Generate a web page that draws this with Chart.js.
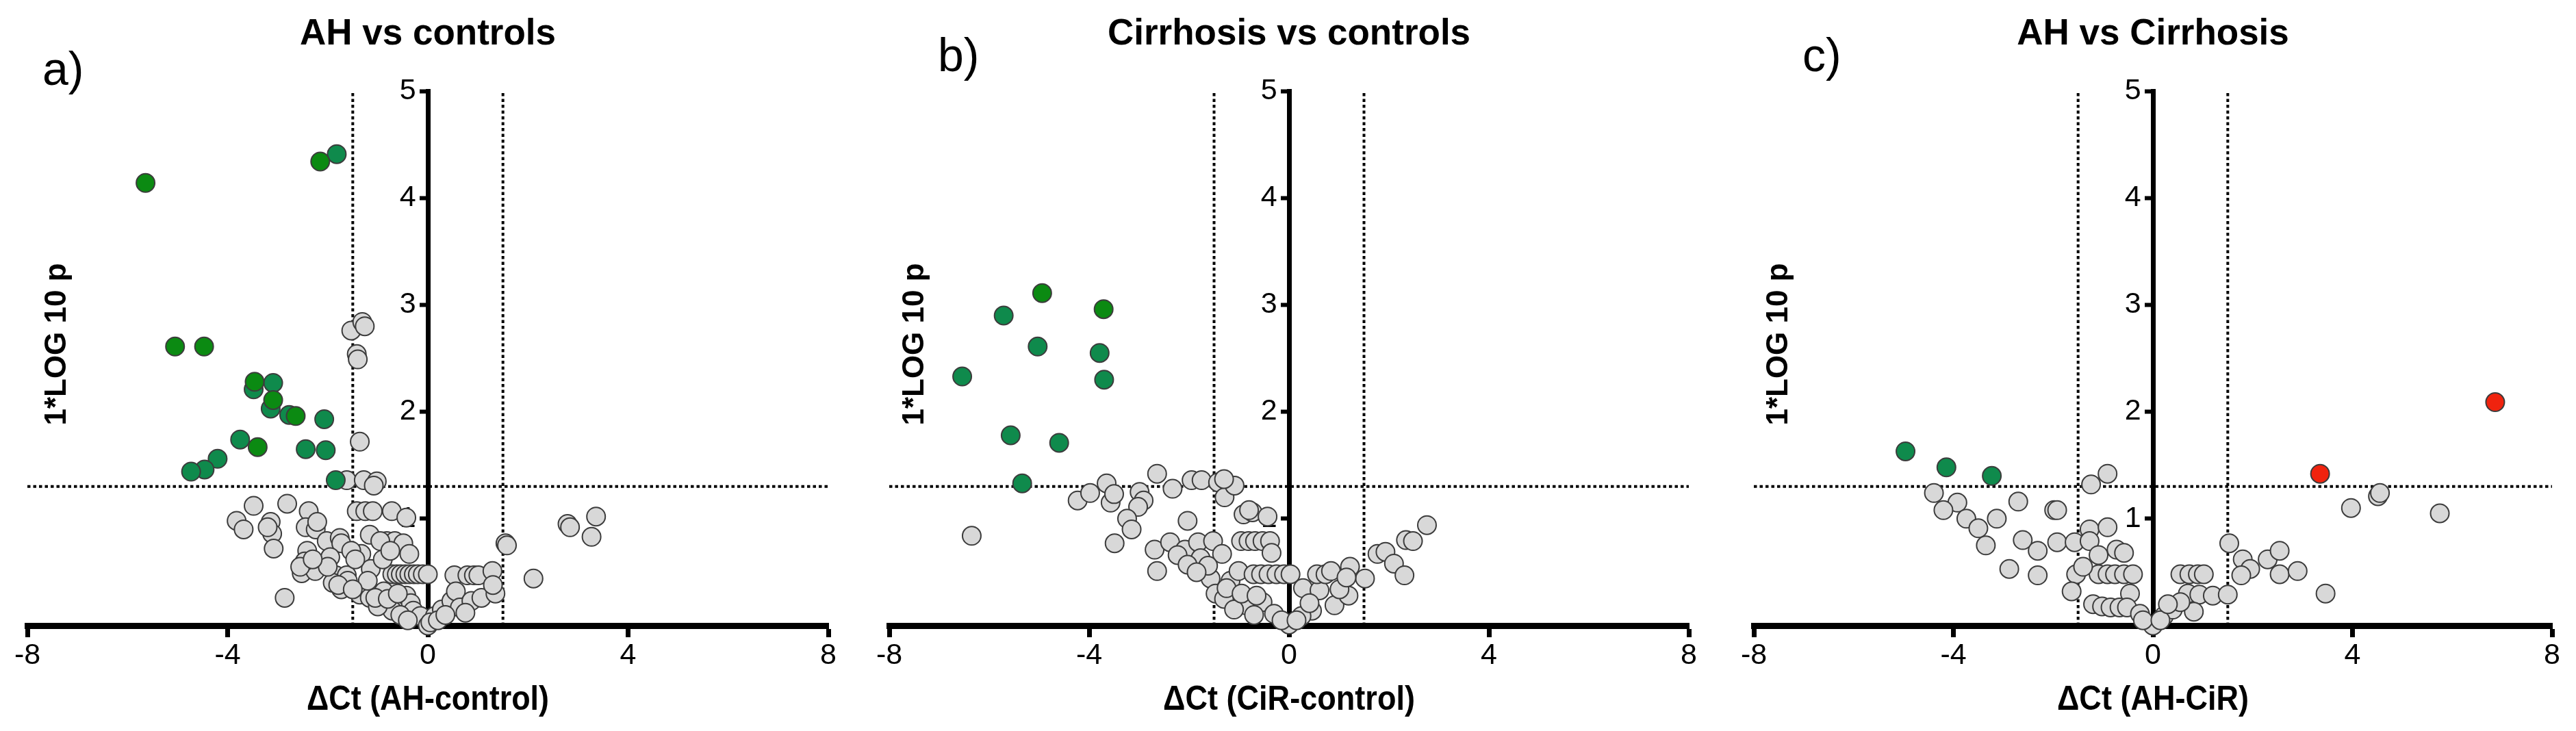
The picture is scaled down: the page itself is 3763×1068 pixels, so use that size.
<!DOCTYPE html>
<html>
<head>
<meta charset="utf-8">
<script src="https://cdn.jsdelivr.net/npm/chart.js@4.4.1/dist/chart.umd.min.js"></script>
<style>
html,body{margin:0;padding:0;background:#fff;}
body{width:3763px;height:1068px;position:relative;overflow:hidden;}
.panel{position:absolute;top:0;height:1068px;}
</style>
</head>
<body>
<div class="panel" style="left:0;width:1250px"><canvas id="cA"></canvas></div>
<div class="panel" style="left:1250px;width:1250px"><canvas id="cB"></canvas></div>
<div class="panel" style="left:2500px;width:1263px"><canvas id="cC"></canvas></div>
<script>
// ---------- thresholds and tick labels ----------
const foldCutoff = 1.5;          // |ΔCt| cut-off (dotted verticals)
const pCutoff = 1.301;           // -log10(0.05) (dotted horizontal)
const xTicks = [-8, -4, 0, 4, 8];
const yTicks = [0, 1, 2, 3, 4, 5];

// ---------- panel a: AH vs controls ----------
const ahCtrlGreenDark = [[-5.64,4.14],[-2.15,4.34],[-5.05,2.61],[-4.47,2.61],[-3.46,2.28],[-3.09,2.11],[-2.64,1.96],[-3.40,1.67]];
const ahCtrlGreen = [[-1.82,4.41],[-3.48,2.21],[-3.09,2.27],[-3.14,2.03],[-2.77,1.97],[-2.07,1.93],[-3.75,1.74],[-2.44,1.65],[-2.04,1.64],[-4.20,1.56],[-4.46,1.46],[-4.73,1.44],[-1.84,1.36]];
const ahCtrlGray = [
[-1.53,2.76],[-1.31,2.84],[-1.26,2.80],[-1.42,2.54],[-1.40,2.49],[-1.36,1.72],
[-1.62,1.36],[-1.28,1.36],[-1.02,1.35],[-1.08,1.31],
[-1.42,1.07],[-1.25,1.07],[-1.10,1.07],[-0.72,1.07],[-0.43,1.01],
[-3.48,1.12],[-2.81,1.14],[-3.82,0.98],[-3.68,0.90],[-3.14,0.97],[-3.11,0.86],[-3.08,0.72],[-3.20,0.92],
[-2.38,1.07],[-2.44,0.92],[-2.24,0.90],[-2.21,0.97],[-2.02,0.79],[-1.76,0.82],[-1.73,0.77],
[-2.41,0.70],[-1.95,0.64],[-2.52,0.49],[-2.25,0.51],[-1.84,0.47],[-1.62,0.47],[-2.86,0.26],[-2.46,0.60],
[-1.16,0.85],[-1.33,0.67],[-0.82,0.79],[-0.66,0.79],[-0.49,0.77],[-0.37,0.67],[-1.14,0.53],[-0.95,0.79],
[-0.71,0.48],[-0.62,0.48],[-0.54,0.48],[-0.45,0.48],[-0.37,0.48],[-0.28,0.48],[-0.20,0.48],[-0.10,0.48],[0.00,0.48],
[0.53,0.47],[0.79,0.47],[0.92,0.47],[1.01,0.47],[1.29,0.51],
[-1.73,0.34],[-1.36,0.29],[-1.16,0.26],[-0.88,0.32],[-0.66,0.21],[-0.43,0.28],[-0.34,0.21],[-0.71,0.14],[-0.29,0.14],[-0.15,0.09],[0.00,0.00],[0.14,0.09],[0.28,0.15],[0.47,0.23],[0.56,0.32],[0.64,0.17],[0.87,0.23],[1.07,0.26],[1.35,0.30],[1.30,0.38],
[1.55,0.77],[1.58,0.75],[2.11,0.44],[2.79,0.95],[2.84,0.92],[3.36,1.02],[3.27,0.83],
[-1.53,0.70],[-1.90,0.40],[-1.60,0.42],[-1.20,0.42],[-1.00,0.18],[-0.55,0.10],[-0.40,0.05],[0.05,0.03],[0.20,0.05],[0.35,0.10],[0.75,0.12],[-2.00,0.55],
[-1.79,0.38],[-1.50,0.34],[-1.05,0.26],[-0.80,0.25],[-0.60,0.30],[-2.55,0.55],[-2.30,0.62],[-1.45,0.62],[-0.90,0.62],[-0.75,0.70]
];

// ---------- panel b: Cirrhosis vs controls ----------
const cirCtrlGreenDark = [[-4.94,3.11],[-3.71,2.96]];
const cirCtrlGreen = [[-5.71,2.90],[-5.03,2.61],[-3.79,2.55],[-6.54,2.33],[-3.70,2.30],[-5.57,1.78],[-4.60,1.71],[-5.34,1.33]];
const cirCtrlGray = [
[-6.35,0.84],
[-4.23,1.17],[-3.98,1.24],[-3.65,1.33],[-3.57,1.15],[-3.50,1.23],[-2.99,1.25],[-2.91,1.17],[-3.02,1.11],[-3.24,1.00],[-3.15,0.90],[-3.49,0.77],
[-2.64,1.42],[-2.33,1.28],[-1.95,1.36],[-1.75,1.36],[-1.42,1.34],[-1.29,1.20],[-1.09,1.31],[-1.30,1.37],
[-0.91,1.04],[-0.73,1.06],[-0.43,1.02],[-0.80,1.08],
[-0.96,0.79],[-0.81,0.79],[-0.68,0.79],[-0.53,0.79],[-0.38,0.79],[-0.35,0.68],
[-2.03,0.98],[-2.69,0.71],[-2.38,0.78],[-2.08,0.71],[-1.82,0.78],[-1.52,0.79],[-1.34,0.67],[-2.23,0.66],[-1.77,0.63],[-2.64,0.51],[-2.03,0.57],[-1.57,0.44],[-1.17,0.42],[-1.47,0.30],[-1.01,0.51],
[-0.71,0.48],[-0.56,0.48],[-0.41,0.48],[-0.25,0.48],[-0.10,0.48],[0.03,0.48],
[-0.86,0.19],[-0.53,0.22],[-0.30,0.11],[0.00,0.01],[-1.30,0.25],[-1.10,0.15],[-0.70,0.10],[-0.15,0.05],
[0.28,0.35],[0.46,0.14],[0.61,0.33],[0.56,0.48],[0.73,0.48],[0.84,0.51],[0.91,0.19],[1.19,0.28],[1.22,0.55],[1.52,0.44],[1.77,0.67],[1.93,0.69],[2.10,0.58],[2.31,0.47],[2.34,0.80],[2.48,0.79],[2.76,0.94],[1.01,0.34],[0.25,0.09],[0.41,0.21],[0.15,0.05],[1.15,0.45],
[-1.62,0.56],[-1.25,0.35],[-0.95,0.30],[-1.85,0.50],[-0.65,0.28]
];

// ---------- panel c: AH vs Cirrhosis ----------
const ahCirGreen = [[-4.96,1.63],[-4.14,1.48],[-3.23,1.40]];
const ahCirRed = [[3.35,1.42],[6.86,2.09]];
const ahCirGray = [
[-4.39,1.24],[-3.92,1.15],[-4.20,1.08],[-3.74,1.00],[-3.50,0.91],[-3.35,0.75],[-3.13,1.00],[-2.70,1.16],[-1.98,1.08],[-1.92,1.08],[-1.24,1.32],[-0.91,1.42],
[-2.61,0.80],[-2.31,0.70],[-1.92,0.78],[-1.57,0.78],[-1.27,0.90],[-1.27,0.79],[-0.91,0.92],[-1.09,0.66],[-0.73,0.71],[-0.58,0.68],
[-2.88,0.53],[-2.31,0.47],[-1.54,0.48],[-1.63,0.32],
[-1.09,0.48],[-0.91,0.48],[-0.76,0.48],[-0.58,0.48],[-0.40,0.48],
[-0.46,0.30],[-1.20,0.20],[-1.02,0.18],[-0.85,0.17],[-0.67,0.17],[-0.52,0.17],[-0.26,0.11],[0.00,0.00],[0.22,0.09],[0.40,0.15],
[0.55,0.48],[0.73,0.48],[0.90,0.48],[1.02,0.48],[0.70,0.30],[0.93,0.29],[1.20,0.28],[1.50,0.29],[0.82,0.13],[0.55,0.22],
[1.53,0.77],[1.80,0.62],[1.95,0.53],[1.77,0.47],[2.30,0.62],[2.54,0.70],[2.54,0.48],[2.90,0.51],[3.46,0.30],[3.97,1.10],[4.51,1.21],[4.55,1.24],[5.75,1.05],
[-1.40,0.55],[-0.20,0.05],[0.15,0.05],[0.30,0.20]
];

// ---------- styling ----------
const GRAY = '#d8d8d8', GRAY_EDGE = '#3c3c3c';
const GREEN = '#0f8a4c', GREEN_DARK = '#0b8a12', RED = '#f0230e';
const FONT = '"Liberation Sans", Arial, Helvetica, sans-serif';

const toPts = arr => arr.map(p => ({x: p[0], y: p[1]}));

function cutoffLines() {
  const base = {type: 'scatter', showLine: true, borderColor: '#000', borderWidth: 4,
    borderDash: [4.5, 4], borderCapStyle: 'butt', pointRadius: 0, pointHoverRadius: 0, fill: false, clip: false, order: 20};
  return [
    Object.assign({}, base, {data: [{x: -foldCutoff, y: yTicks[0]}, {x: -foldCutoff, y: yTicks[yTicks.length-1]}]}),
    Object.assign({}, base, {data: [{x: foldCutoff, y: yTicks[0]}, {x: foldCutoff, y: yTicks[yTicks.length-1]}]}),
    Object.assign({}, base, {data: [{x: xTicks[0], y: pCutoff}, {x: xTicks[xTicks.length-1], y: pCutoff}]})
  ];
}
function pointSet(arr, fill, order) {
  return {type: 'scatter', data: toPts(arr), backgroundColor: fill, borderColor: GRAY_EDGE,
    borderWidth: 2, pointRadius: 13.5, pointHoverRadius: 13.5, clip: false, order: order};
}

const textPlugin = {
  id: 'panelText',
  afterDraw(chart, args, o) {
    const ctx = chart.ctx;
    ctx.save();
    ctx.fillStyle = '#000';
    // panel letter
    ctx.font = '68px ' + FONT;
    ctx.textAlign = 'left'; ctx.textBaseline = 'alphabetic';
    ctx.fillText(o.letter, o.letterX, o.letterY);
    // x axis title (condensed bold)
    const x0 = chart.scales.x.getPixelForValue(0);
    ctx.font = 'bold 50px ' + FONT;
    const w = ctx.measureText(o.xTitle).width;
    ctx.save();
    ctx.translate(x0, 1037);
    ctx.scale(o.xTitleWidth / w, 1);
    ctx.textAlign = 'center';
    ctx.fillText(o.xTitle, 0, 0);
    ctx.restore();
    // y axis title
    ctx.translate(o.yTitleX, 503);
    ctx.rotate(-Math.PI / 2);
    ctx.font = 'bold 44px ' + FONT;
    ctx.textAlign = 'center'; ctx.textBaseline = 'middle';
    ctx.fillText(o.yTitle, 0, 0);
    ctx.restore();
  }
};

function makeChart(id, cfg) {
  const tickFont = {family: FONT, size: 43};
  new Chart(document.getElementById(id), {
    type: 'scatter',
    data: {datasets: cutoffLines().concat(cfg.sets)},
    plugins: [textPlugin],
    options: {
      responsive: true, maintainAspectRatio: false, animation: false, devicePixelRatio: 1,
      events: [],
      layout: {padding: {left: cfg.padL, right: cfg.padR, top: 0, bottom: 154}},
      plugins: {
        legend: {display: false}, tooltip: {enabled: false},
        title: {display: true, text: cfg.title, color: '#000',
          font: {family: FONT, size: 53, weight: 'bold', lineHeight: 1.2},
          padding: {top: 19, bottom: 50.4}},
        panelText: cfg.text
      },
      scales: {
        x: {type: 'linear', position: {y: 0}, min: xTicks[0], max: xTicks[xTicks.length-1],
          afterBuildTicks: s => { s.ticks = xTicks.map(v => ({value: v})); },
          ticks: {color: '#000', font: tickFont, padding: 6, maxRotation: 0, autoSkip: false},
          grid: {display: true, drawOnChartArea: false, drawTicks: true, tickLength: 12, tickColor: '#000', tickWidth: 7},
          border: {display: true, color: '#000', width: 9}},
        y: {type: 'linear', position: {x: 0}, min: yTicks[0], max: yTicks[yTicks.length-1],
          afterBuildTicks: s => { s.ticks = yTicks.map(v => ({value: v})); },
          // label sits left of the centred axis: trailing thin spaces give the gap
          ticks: {color: '#000', font: tickFont, padding: 8, callback: v => (v === 0 ? '' : String(v) + '\u2009\u2009')},
          grid: {display: true, drawOnChartArea: false, drawTicks: true, tickLength: 9, tickColor: '#000', tickWidth: 6},
          border: {display: true, color: '#000', width: 7}}
      }
    }
  });
}

makeChart('cA', {
  title: 'AH vs controls', padL: 40, padR: 40,
  sets: [pointSet(ahCtrlGray, GRAY, 5), pointSet(ahCtrlGreen, GREEN, 4), pointSet(ahCtrlGreenDark, GREEN_DARK, 3)],
  text: {letter: 'a)', letterX: 62, letterY: 124, xTitle: 'ΔCt (AH-control)', xTitleWidth: 354, yTitle: '1*LOG 10 p', yTitleX: 84}
});
makeChart('cB', {
  title: 'Cirrhosis vs controls', padL: 49, padR: 33,
  sets: [pointSet(cirCtrlGray, GRAY, 5), pointSet(cirCtrlGreen, GREEN, 4), pointSet(cirCtrlGreenDark, GREEN_DARK, 3)],
  text: {letter: 'b)', letterX: 120, letterY: 104, xTitle: 'ΔCt (CiR-control)', xTitleWidth: 368, yTitle: '1*LOG 10 p', yTitleX: 87}
});
makeChart('cC', {
  title: 'AH vs Cirrhosis', padL: 62, padR: 35,
  sets: [pointSet(ahCirGray, GRAY, 5), pointSet(ahCirGreen, GREEN, 4), pointSet(ahCirRed, RED, 3)],
  text: {letter: 'c)', letterX: 133, letterY: 104, xTitle: 'ΔCt (AH-CiR)', xTitleWidth: 280, yTitle: '1*LOG 10 p', yTitleX: 99}
});
</script>
</body>
</html>
